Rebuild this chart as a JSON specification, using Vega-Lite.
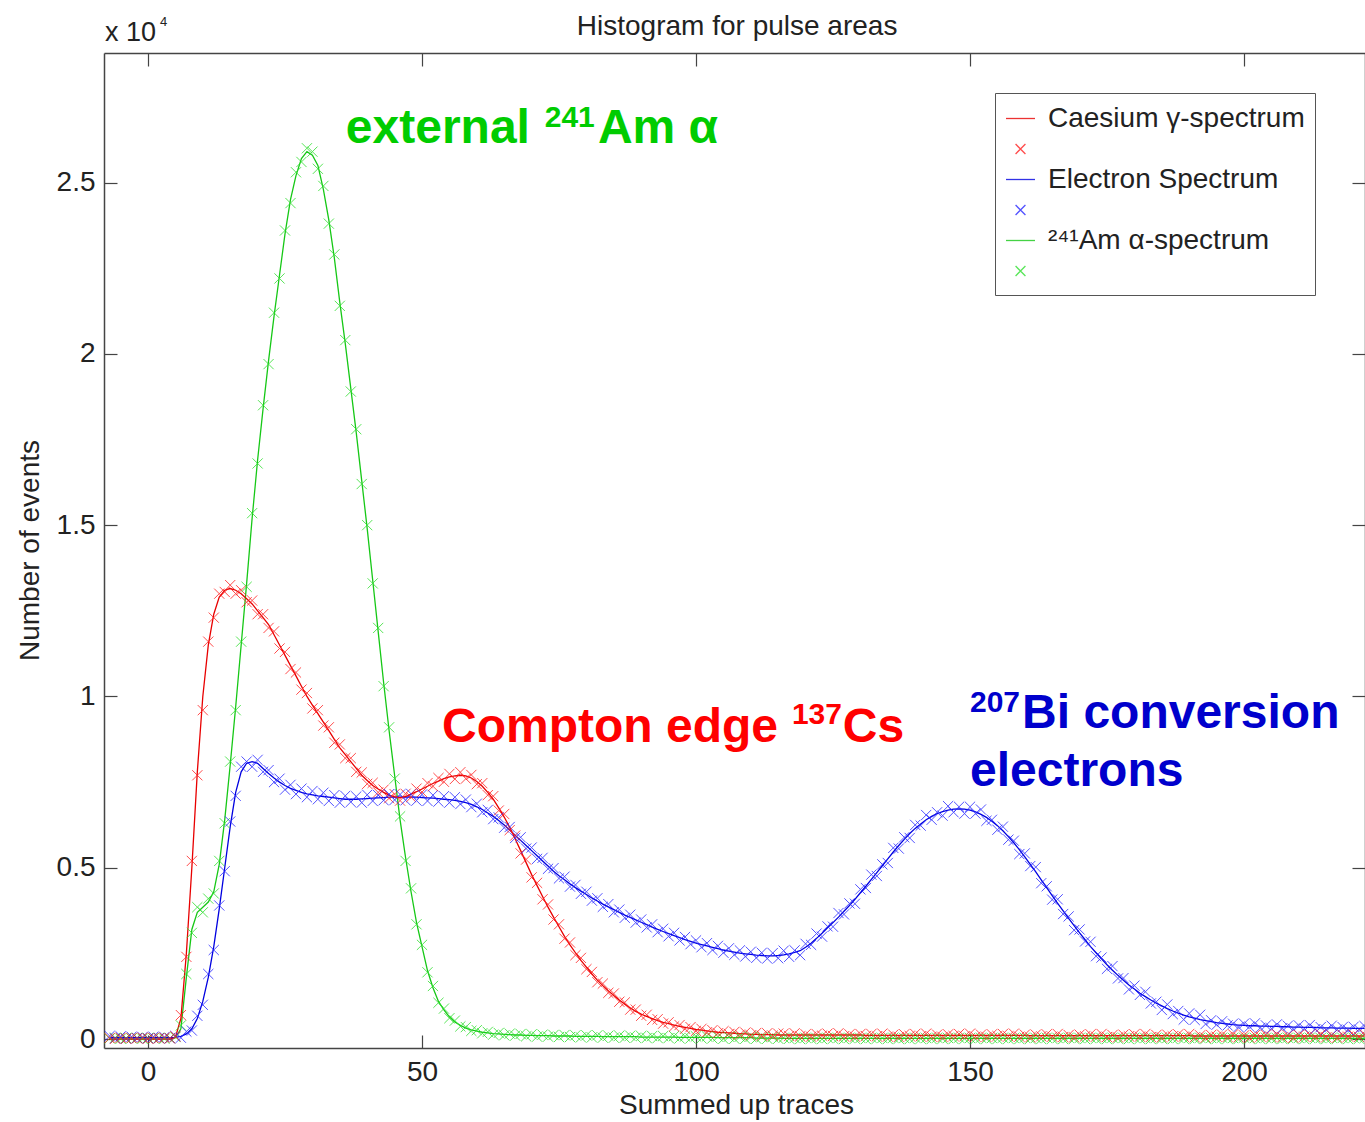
{
  "$schema": "https://vega.github.io/schema/vega-lite/v6.json",
  "width": 1261,
  "height": 995,
  "autosize": {"type": "none"},
  "padding": {"left": 104, "top": 53, "right": 0, "bottom": 74},
  "background": "white",
  "config": {"view": {"stroke": null}, "font": "Liberation Sans"},
  "datasets": {
    "spectra": [
      {"x":-7,"Cs":0,"CsM":0.003,"El":0.004,"ElM":0.009,"Am":0,"AmM":0.002},
      {"x":-6,"Cs":0,"CsM":0.001,"El":0.004,"ElM":0.002,"Am":0,"AmM":0.004},
      {"x":-5,"Cs":0,"CsM":0.004,"El":0.004,"ElM":0.008,"Am":0,"AmM":0.001},
      {"x":-4,"Cs":0,"CsM":0.001,"El":0.004,"ElM":0.001,"Am":0,"AmM":0.003},
      {"x":-3,"Cs":0,"CsM":0.003,"El":0.004,"ElM":0.007,"Am":0,"AmM":0.002},
      {"x":-2,"Cs":0,"CsM":0.002,"El":0.004,"ElM":0.003,"Am":0,"AmM":0.004},
      {"x":-1,"Cs":0,"CsM":0.004,"El":0.004,"ElM":0.006,"Am":0,"AmM":0.001},
      {"x":0,"Cs":0,"CsM":0.001,"El":0.004,"ElM":0.002,"Am":0,"AmM":0.003},
      {"x":1,"Cs":0,"CsM":0.003,"El":0.004,"ElM":0.007,"Am":0,"AmM":0.002},
      {"x":2,"Cs":0,"CsM":0.002,"El":0.004,"ElM":0.003,"Am":0,"AmM":0.004},
      {"x":3,"Cs":0,"CsM":0.004,"El":0.004,"ElM":0.006,"Am":0,"AmM":0.001},
      {"x":4,"Cs":0,"CsM":0.002,"El":0.004,"ElM":0.002,"Am":0,"AmM":0.003},
      {"x":5,"Cs":0.005,"CsM":0.008,"El":0.005,"ElM":0.009,"Am":0.004,"AmM":0.006},
      {"x":6,"Cs":0.06,"CsM":0.07,"El":0.008,"ElM":0.004,"Am":0.03,"AmM":0.04},
      {"x":7,"Cs":0.25,"CsM":0.24,"El":0.015,"ElM":0.022,"Am":0.18,"AmM":0.19},
      {"x":8,"Cs":0.5,"CsM":0.52,"El":0.03,"ElM":0.025,"Am":0.32,"AmM":0.31},
      {"x":9,"Cs":0.78,"CsM":0.77,"El":0.06,"ElM":0.068,"Am":0.37,"AmM":0.385},
      {"x":10,"Cs":1.0,"CsM":0.96,"El":0.11,"ElM":0.1,"Am":0.385,"AmM":0.37},
      {"x":11,"Cs":1.15,"CsM":1.16,"El":0.18,"ElM":0.19,"Am":0.4,"AmM":0.41},
      {"x":12,"Cs":1.24,"CsM":1.23,"El":0.27,"ElM":0.26,"Am":0.43,"AmM":0.425},
      {"x":13,"Cs":1.29,"CsM":1.3,"El":0.38,"ElM":0.39,"Am":0.51,"AmM":0.52},
      {"x":14,"Cs":1.31,"CsM":1.305,"El":0.5,"ElM":0.49,"Am":0.64,"AmM":0.63},
      {"x":15,"Cs":1.315,"CsM":1.325,"El":0.62,"ElM":0.635,"Am":0.8,"AmM":0.81},
      {"x":16,"Cs":1.31,"CsM":1.3,"El":0.72,"ElM":0.71,"Am":0.97,"AmM":0.96},
      {"x":17,"Cs":1.3,"CsM":1.31,"El":0.78,"ElM":0.795,"Am":1.15,"AmM":1.16},
      {"x":18,"Cs":1.285,"CsM":1.275,"El":0.805,"ElM":0.81,"Am":1.33,"AmM":1.32},
      {"x":19,"Cs":1.27,"CsM":1.28,"El":0.81,"ElM":0.795,"Am":1.52,"AmM":1.535},
      {"x":20,"Cs":1.25,"CsM":1.24,"El":0.805,"ElM":0.815,"Am":1.69,"AmM":1.68},
      {"x":21,"Cs":1.23,"CsM":1.24,"El":0.79,"ElM":0.78,"Am":1.84,"AmM":1.85},
      {"x":22,"Cs":1.21,"CsM":1.2,"El":0.775,"ElM":0.785,"Am":1.98,"AmM":1.97},
      {"x":23,"Cs":1.18,"CsM":1.19,"El":0.762,"ElM":0.75,"Am":2.11,"AmM":2.12},
      {"x":24,"Cs":1.15,"CsM":1.14,"El":0.75,"ElM":0.76,"Am":2.23,"AmM":2.22},
      {"x":25,"Cs":1.12,"CsM":1.13,"El":0.74,"ElM":0.728,"Am":2.35,"AmM":2.36},
      {"x":26,"Cs":1.09,"CsM":1.08,"El":0.732,"ElM":0.742,"Am":2.45,"AmM":2.44},
      {"x":27,"Cs":1.06,"CsM":1.07,"El":0.726,"ElM":0.715,"Am":2.52,"AmM":2.53},
      {"x":28,"Cs":1.03,"CsM":1.02,"El":0.72,"ElM":0.731,"Am":2.57,"AmM":2.56},
      {"x":29,"Cs":1.0,"CsM":1.01,"El":0.716,"ElM":0.706,"Am":2.59,"AmM":2.6},
      {"x":30,"Cs":0.975,"CsM":0.965,"El":0.713,"ElM":0.724,"Am":2.58,"AmM":2.59},
      {"x":31,"Cs":0.95,"CsM":0.96,"El":0.71,"ElM":0.7,"Am":2.55,"AmM":2.54},
      {"x":32,"Cs":0.925,"CsM":0.915,"El":0.708,"ElM":0.719,"Am":2.48,"AmM":2.49},
      {"x":33,"Cs":0.9,"CsM":0.91,"El":0.706,"ElM":0.695,"Am":2.39,"AmM":2.38},
      {"x":34,"Cs":0.875,"CsM":0.865,"El":0.704,"ElM":0.712,"Am":2.28,"AmM":2.29},
      {"x":35,"Cs":0.85,"CsM":0.86,"El":0.702,"ElM":0.69,"Am":2.15,"AmM":2.14},
      {"x":36,"Cs":0.83,"CsM":0.82,"El":0.7,"ElM":0.71,"Am":2.03,"AmM":2.04},
      {"x":37,"Cs":0.81,"CsM":0.82,"El":0.7,"ElM":0.692,"Am":1.9,"AmM":1.89},
      {"x":38,"Cs":0.79,"CsM":0.78,"El":0.7,"ElM":0.708,"Am":1.77,"AmM":1.78},
      {"x":39,"Cs":0.77,"CsM":0.778,"El":0.701,"ElM":0.69,"Am":1.63,"AmM":1.62},
      {"x":40,"Cs":0.755,"CsM":0.745,"El":0.702,"ElM":0.713,"Am":1.49,"AmM":1.5},
      {"x":41,"Cs":0.74,"CsM":0.748,"El":0.703,"ElM":0.695,"Am":1.34,"AmM":1.33},
      {"x":42,"Cs":0.73,"CsM":0.72,"El":0.704,"ElM":0.712,"Am":1.19,"AmM":1.2},
      {"x":43,"Cs":0.72,"CsM":0.728,"El":0.705,"ElM":0.697,"Am":1.04,"AmM":1.03},
      {"x":44,"Cs":0.712,"CsM":0.703,"El":0.706,"ElM":0.715,"Am":0.9,"AmM":0.91},
      {"x":45,"Cs":0.707,"CsM":0.715,"El":0.706,"ElM":0.698,"Am":0.77,"AmM":0.76},
      {"x":46,"Cs":0.705,"CsM":0.696,"El":0.706,"ElM":0.714,"Am":0.64,"AmM":0.65},
      {"x":47,"Cs":0.708,"CsM":0.716,"El":0.706,"ElM":0.697,"Am":0.53,"AmM":0.52},
      {"x":48,"Cs":0.715,"CsM":0.706,"El":0.706,"ElM":0.716,"Am":0.43,"AmM":0.44},
      {"x":49,"Cs":0.722,"CsM":0.731,"El":0.706,"ElM":0.696,"Am":0.34,"AmM":0.335},
      {"x":50,"Cs":0.73,"CsM":0.721,"El":0.705,"ElM":0.714,"Am":0.27,"AmM":0.275},
      {"x":51,"Cs":0.738,"CsM":0.747,"El":0.704,"ElM":0.695,"Am":0.2,"AmM":0.195},
      {"x":52,"Cs":0.746,"CsM":0.738,"El":0.703,"ElM":0.712,"Am":0.15,"AmM":0.155},
      {"x":53,"Cs":0.753,"CsM":0.762,"El":0.702,"ElM":0.693,"Am":0.11,"AmM":0.106},
      {"x":54,"Cs":0.76,"CsM":0.751,"El":0.7,"ElM":0.709,"Am":0.085,"AmM":0.089},
      {"x":55,"Cs":0.765,"CsM":0.774,"El":0.699,"ElM":0.69,"Am":0.065,"AmM":0.061},
      {"x":56,"Cs":0.768,"CsM":0.759,"El":0.697,"ElM":0.706,"Am":0.05,"AmM":0.054},
      {"x":57,"Cs":0.77,"CsM":0.779,"El":0.694,"ElM":0.686,"Am":0.04,"AmM":0.037},
      {"x":58,"Cs":0.768,"CsM":0.76,"El":0.69,"ElM":0.699,"Am":0.032,"AmM":0.035},
      {"x":59,"Cs":0.762,"CsM":0.771,"El":0.685,"ElM":0.677,"Am":0.027,"AmM":0.024},
      {"x":60,"Cs":0.752,"CsM":0.744,"El":0.678,"ElM":0.687,"Am":0.023,"AmM":0.026},
      {"x":61,"Cs":0.738,"CsM":0.747,"El":0.67,"ElM":0.662,"Am":0.02,"AmM":0.017},
      {"x":62,"Cs":0.72,"CsM":0.712,"El":0.66,"ElM":0.669,"Am":0.018,"AmM":0.021},
      {"x":63,"Cs":0.7,"CsM":0.709,"El":0.65,"ElM":0.642,"Am":0.016,"AmM":0.013},
      {"x":64,"Cs":0.675,"CsM":0.667,"El":0.638,"ElM":0.647,"Am":0.015,"AmM":0.018},
      {"x":65,"Cs":0.648,"CsM":0.657,"El":0.625,"ElM":0.617,"Am":0.014,"AmM":0.011},
      {"x":66,"Cs":0.618,"CsM":0.61,"El":0.61,"ElM":0.619,"Am":0.013,"AmM":0.016},
      {"x":67,"Cs":0.585,"CsM":0.594,"El":0.595,"ElM":0.587,"Am":0.012,"AmM":0.01},
      {"x":68,"Cs":0.55,"CsM":0.542,"El":0.58,"ElM":0.589,"Am":0.012,"AmM":0.015},
      {"x":69,"Cs":0.515,"CsM":0.524,"El":0.565,"ElM":0.556,"Am":0.011,"AmM":0.008},
      {"x":70,"Cs":0.48,"CsM":0.472,"El":0.55,"ElM":0.559,"Am":0.011,"AmM":0.014},
      {"x":71,"Cs":0.448,"CsM":0.456,"El":0.535,"ElM":0.526,"Am":0.01,"AmM":0.007},
      {"x":72,"Cs":0.416,"CsM":0.408,"El":0.52,"ElM":0.529,"Am":0.01,"AmM":0.013},
      {"x":73,"Cs":0.385,"CsM":0.393,"El":0.505,"ElM":0.497,"Am":0.01,"AmM":0.007},
      {"x":74,"Cs":0.356,"CsM":0.349,"El":0.49,"ElM":0.499,"Am":0.009,"AmM":0.012},
      {"x":75,"Cs":0.328,"CsM":0.335,"El":0.477,"ElM":0.469,"Am":0.009,"AmM":0.006},
      {"x":76,"Cs":0.3,"CsM":0.293,"El":0.465,"ElM":0.474,"Am":0.009,"AmM":0.012},
      {"x":77,"Cs":0.275,"CsM":0.282,"El":0.453,"ElM":0.445,"Am":0.009,"AmM":0.006},
      {"x":78,"Cs":0.252,"CsM":0.245,"El":0.442,"ElM":0.45,"Am":0.008,"AmM":0.011},
      {"x":79,"Cs":0.23,"CsM":0.237,"El":0.432,"ElM":0.424,"Am":0.008,"AmM":0.005},
      {"x":80,"Cs":0.21,"CsM":0.204,"El":0.422,"ElM":0.43,"Am":0.008,"AmM":0.011},
      {"x":81,"Cs":0.19,"CsM":0.196,"El":0.412,"ElM":0.404,"Am":0.008,"AmM":0.005},
      {"x":82,"Cs":0.172,"CsM":0.166,"El":0.403,"ElM":0.411,"Am":0.008,"AmM":0.011},
      {"x":83,"Cs":0.156,"CsM":0.162,"El":0.394,"ElM":0.386,"Am":0.007,"AmM":0.004},
      {"x":84,"Cs":0.141,"CsM":0.135,"El":0.386,"ElM":0.394,"Am":0.007,"AmM":0.01},
      {"x":85,"Cs":0.127,"CsM":0.133,"El":0.378,"ElM":0.37,"Am":0.007,"AmM":0.004},
      {"x":86,"Cs":0.114,"CsM":0.109,"El":0.37,"ElM":0.378,"Am":0.007,"AmM":0.01},
      {"x":87,"Cs":0.102,"CsM":0.107,"El":0.362,"ElM":0.354,"Am":0.007,"AmM":0.004},
      {"x":88,"Cs":0.091,"CsM":0.086,"El":0.355,"ElM":0.363,"Am":0.007,"AmM":0.01},
      {"x":89,"Cs":0.081,"CsM":0.086,"El":0.348,"ElM":0.34,"Am":0.007,"AmM":0.004},
      {"x":90,"Cs":0.073,"CsM":0.068,"El":0.341,"ElM":0.349,"Am":0.006,"AmM":0.009},
      {"x":91,"Cs":0.066,"CsM":0.071,"El":0.334,"ElM":0.326,"Am":0.006,"AmM":0.003},
      {"x":92,"Cs":0.06,"CsM":0.056,"El":0.327,"ElM":0.335,"Am":0.006,"AmM":0.009},
      {"x":93,"Cs":0.054,"CsM":0.058,"El":0.32,"ElM":0.312,"Am":0.006,"AmM":0.003},
      {"x":94,"Cs":0.049,"CsM":0.045,"El":0.314,"ElM":0.322,"Am":0.006,"AmM":0.009},
      {"x":95,"Cs":0.045,"CsM":0.049,"El":0.308,"ElM":0.3,"Am":0.006,"AmM":0.003},
      {"x":96,"Cs":0.041,"CsM":0.037,"El":0.302,"ElM":0.31,"Am":0.006,"AmM":0.009},
      {"x":97,"Cs":0.037,"CsM":0.041,"El":0.296,"ElM":0.288,"Am":0.005,"AmM":0.002},
      {"x":98,"Cs":0.034,"CsM":0.03,"El":0.29,"ElM":0.298,"Am":0.005,"AmM":0.008},
      {"x":99,"Cs":0.031,"CsM":0.035,"El":0.285,"ElM":0.277,"Am":0.005,"AmM":0.002},
      {"x":100,"Cs":0.028,"CsM":0.024,"El":0.28,"ElM":0.288,"Am":0.005,"AmM":0.008},
      {"x":101,"Cs":0.026,"CsM":0.03,"El":0.276,"ElM":0.268,"Am":0.005,"AmM":0.002},
      {"x":102,"Cs":0.024,"CsM":0.02,"El":0.272,"ElM":0.28,"Am":0.005,"AmM":0.008},
      {"x":103,"Cs":0.022,"CsM":0.026,"El":0.268,"ElM":0.26,"Am":0.005,"AmM":0.002},
      {"x":104,"Cs":0.02,"CsM":0.017,"El":0.264,"ElM":0.272,"Am":0.004,"AmM":0.007},
      {"x":105,"Cs":0.019,"CsM":0.023,"El":0.26,"ElM":0.252,"Am":0.004,"AmM":0.001},
      {"x":106,"Cs":0.018,"CsM":0.015,"El":0.257,"ElM":0.265,"Am":0.004,"AmM":0.007},
      {"x":107,"Cs":0.017,"CsM":0.021,"El":0.254,"ElM":0.246,"Am":0.004,"AmM":0.001},
      {"x":108,"Cs":0.016,"CsM":0.013,"El":0.251,"ElM":0.259,"Am":0.004,"AmM":0.007},
      {"x":109,"Cs":0.015,"CsM":0.019,"El":0.249,"ElM":0.241,"Am":0.004,"AmM":0.001},
      {"x":110,"Cs":0.014,"CsM":0.011,"El":0.247,"ElM":0.255,"Am":0.004,"AmM":0.007},
      {"x":111,"Cs":0.014,"CsM":0.018,"El":0.245,"ElM":0.237,"Am":0.003,"AmM":0.001},
      {"x":112,"Cs":0.013,"CsM":0.01,"El":0.244,"ElM":0.252,"Am":0.003,"AmM":0.006},
      {"x":113,"Cs":0.013,"CsM":0.017,"El":0.243,"ElM":0.235,"Am":0.003,"AmM":0.001},
      {"x":114,"Cs":0.013,"CsM":0.01,"El":0.243,"ElM":0.251,"Am":0.003,"AmM":0.006},
      {"x":115,"Cs":0.012,"CsM":0.016,"El":0.244,"ElM":0.236,"Am":0.003,"AmM":0.001},
      {"x":116,"Cs":0.012,"CsM":0.016,"El":0.246,"ElM":0.258,"Am":0.002,"AmM":0.004},
      {"x":117,"Cs":0.012,"CsM":0.009,"El":0.249,"ElM":0.24,"Am":0.002,"AmM":0.001},
      {"x":118,"Cs":0.012,"CsM":0.017,"El":0.253,"ElM":0.259,"Am":0.002,"AmM":0.003},
      {"x":119,"Cs":0.012,"CsM":0.008,"El":0.258,"ElM":0.245,"Am":0.002,"AmM":0},
      {"x":120,"Cs":0.012,"CsM":0.014,"El":0.268,"ElM":0.278,"Am":0.002,"AmM":0.004},
      {"x":121,"Cs":0.012,"CsM":0.007,"El":0.28,"ElM":0.275,"Am":0.002,"AmM":0.001},
      {"x":122,"Cs":0.012,"CsM":0.015,"El":0.294,"ElM":0.308,"Am":0.002,"AmM":0.003},
      {"x":123,"Cs":0.012,"CsM":0.01,"El":0.309,"ElM":0.299,"Am":0.002,"AmM":0},
      {"x":124,"Cs":0.012,"CsM":0.016,"El":0.325,"ElM":0.329,"Am":0.002,"AmM":0.004},
      {"x":125,"Cs":0.012,"CsM":0.009,"El":0.34,"ElM":0.328,"Am":0.002,"AmM":0.001},
      {"x":126,"Cs":0.012,"CsM":0.017,"El":0.356,"ElM":0.368,"Am":0.002,"AmM":0.003},
      {"x":127,"Cs":0.012,"CsM":0.008,"El":0.373,"ElM":0.364,"Am":0.002,"AmM":0},
      {"x":128,"Cs":0.012,"CsM":0.014,"El":0.39,"ElM":0.396,"Am":0.002,"AmM":0.004},
      {"x":129,"Cs":0.012,"CsM":0.007,"El":0.408,"ElM":0.395,"Am":0.002,"AmM":0.001},
      {"x":130,"Cs":0.012,"CsM":0.015,"El":0.427,"ElM":0.437,"Am":0.002,"AmM":0.003},
      {"x":131,"Cs":0.011,"CsM":0.009,"El":0.446,"ElM":0.441,"Am":0.002,"AmM":0},
      {"x":132,"Cs":0.011,"CsM":0.015,"El":0.466,"ElM":0.48,"Am":0.002,"AmM":0.004},
      {"x":133,"Cs":0.011,"CsM":0.008,"El":0.486,"ElM":0.476,"Am":0.002,"AmM":0.001},
      {"x":134,"Cs":0.011,"CsM":0.016,"El":0.506,"ElM":0.51,"Am":0.002,"AmM":0.003},
      {"x":135,"Cs":0.011,"CsM":0.007,"El":0.526,"ElM":0.514,"Am":0.002,"AmM":0},
      {"x":136,"Cs":0.011,"CsM":0.013,"El":0.546,"ElM":0.558,"Am":0.002,"AmM":0.004},
      {"x":137,"Cs":0.011,"CsM":0.006,"El":0.565,"ElM":0.556,"Am":0.002,"AmM":0.001},
      {"x":138,"Cs":0.011,"CsM":0.014,"El":0.583,"ElM":0.589,"Am":0.002,"AmM":0.003},
      {"x":139,"Cs":0.011,"CsM":0.009,"El":0.6,"ElM":0.587,"Am":0.002,"AmM":0},
      {"x":140,"Cs":0.011,"CsM":0.015,"El":0.615,"ElM":0.625,"Am":0.002,"AmM":0.004},
      {"x":141,"Cs":0.011,"CsM":0.008,"El":0.628,"ElM":0.623,"Am":0.002,"AmM":0.001},
      {"x":142,"Cs":0.011,"CsM":0.016,"El":0.64,"ElM":0.654,"Am":0.002,"AmM":0.003},
      {"x":143,"Cs":0.011,"CsM":0.007,"El":0.65,"ElM":0.64,"Am":0.002,"AmM":0},
      {"x":144,"Cs":0.011,"CsM":0.013,"El":0.658,"ElM":0.662,"Am":0.002,"AmM":0.004},
      {"x":145,"Cs":0.011,"CsM":0.006,"El":0.664,"ElM":0.652,"Am":0.002,"AmM":0.001},
      {"x":146,"Cs":0.011,"CsM":0.014,"El":0.668,"ElM":0.68,"Am":0.002,"AmM":0.003},
      {"x":147,"Cs":0.011,"CsM":0.009,"El":0.671,"ElM":0.662,"Am":0.002,"AmM":0},
      {"x":148,"Cs":0.011,"CsM":0.015,"El":0.672,"ElM":0.678,"Am":0.002,"AmM":0.004},
      {"x":149,"Cs":0.011,"CsM":0.008,"El":0.671,"ElM":0.658,"Am":0.002,"AmM":0.001},
      {"x":150,"Cs":0.011,"CsM":0.016,"El":0.668,"ElM":0.678,"Am":0.002,"AmM":0.003},
      {"x":151,"Cs":0.011,"CsM":0.007,"El":0.663,"ElM":0.658,"Am":0.002,"AmM":0},
      {"x":152,"Cs":0.011,"CsM":0.013,"El":0.656,"ElM":0.67,"Am":0.002,"AmM":0.004},
      {"x":153,"Cs":0.011,"CsM":0.006,"El":0.647,"ElM":0.637,"Am":0.002,"AmM":0.001},
      {"x":154,"Cs":0.011,"CsM":0.014,"El":0.636,"ElM":0.64,"Am":0.002,"AmM":0.003},
      {"x":155,"Cs":0.011,"CsM":0.009,"El":0.623,"ElM":0.611,"Am":0.002,"AmM":0},
      {"x":156,"Cs":0.011,"CsM":0.015,"El":0.608,"ElM":0.62,"Am":0.002,"AmM":0.004},
      {"x":157,"Cs":0.011,"CsM":0.008,"El":0.591,"ElM":0.582,"Am":0.002,"AmM":0.001},
      {"x":158,"Cs":0.011,"CsM":0.016,"El":0.573,"ElM":0.579,"Am":0.002,"AmM":0.003},
      {"x":159,"Cs":0.011,"CsM":0.007,"El":0.553,"ElM":0.54,"Am":0.002,"AmM":0},
      {"x":160,"Cs":0.011,"CsM":0.013,"El":0.532,"ElM":0.542,"Am":0.002,"AmM":0.004},
      {"x":161,"Cs":0.01,"CsM":0.005,"El":0.51,"ElM":0.505,"Am":0.002,"AmM":0.001},
      {"x":162,"Cs":0.01,"CsM":0.013,"El":0.488,"ElM":0.502,"Am":0.002,"AmM":0.003},
      {"x":163,"Cs":0.01,"CsM":0.008,"El":0.465,"ElM":0.455,"Am":0.002,"AmM":0},
      {"x":164,"Cs":0.01,"CsM":0.014,"El":0.442,"ElM":0.446,"Am":0.002,"AmM":0.004},
      {"x":165,"Cs":0.01,"CsM":0.007,"El":0.419,"ElM":0.407,"Am":0.002,"AmM":0.001},
      {"x":166,"Cs":0.01,"CsM":0.015,"El":0.396,"ElM":0.408,"Am":0.002,"AmM":0.003},
      {"x":167,"Cs":0.01,"CsM":0.006,"El":0.374,"ElM":0.365,"Am":0.002,"AmM":0},
      {"x":168,"Cs":0.01,"CsM":0.012,"El":0.352,"ElM":0.358,"Am":0.002,"AmM":0.004},
      {"x":169,"Cs":0.01,"CsM":0.005,"El":0.331,"ElM":0.318,"Am":0.002,"AmM":0.001},
      {"x":170,"Cs":0.01,"CsM":0.013,"El":0.31,"ElM":0.32,"Am":0.002,"AmM":0.003},
      {"x":171,"Cs":0.01,"CsM":0.008,"El":0.29,"ElM":0.285,"Am":0.002,"AmM":0},
      {"x":172,"Cs":0.01,"CsM":0.014,"El":0.27,"ElM":0.284,"Am":0.002,"AmM":0.004},
      {"x":173,"Cs":0.01,"CsM":0.007,"El":0.252,"ElM":0.242,"Am":0.002,"AmM":0.001},
      {"x":174,"Cs":0.01,"CsM":0.015,"El":0.234,"ElM":0.238,"Am":0.002,"AmM":0.003},
      {"x":175,"Cs":0.01,"CsM":0.006,"El":0.217,"ElM":0.205,"Am":0.002,"AmM":0},
      {"x":176,"Cs":0.01,"CsM":0.012,"El":0.201,"ElM":0.213,"Am":0.002,"AmM":0.004},
      {"x":177,"Cs":0.01,"CsM":0.005,"El":0.186,"ElM":0.177,"Am":0.002,"AmM":0.001},
      {"x":178,"Cs":0.01,"CsM":0.013,"El":0.172,"ElM":0.178,"Am":0.002,"AmM":0.003},
      {"x":179,"Cs":0.01,"CsM":0.008,"El":0.158,"ElM":0.145,"Am":0.002,"AmM":0},
      {"x":180,"Cs":0.01,"CsM":0.014,"El":0.146,"ElM":0.156,"Am":0.002,"AmM":0.004},
      {"x":181,"Cs":0.01,"CsM":0.007,"El":0.134,"ElM":0.129,"Am":0.002,"AmM":0.001},
      {"x":182,"Cs":0.01,"CsM":0.015,"El":0.124,"ElM":0.138,"Am":0.002,"AmM":0.003},
      {"x":183,"Cs":0.01,"CsM":0.006,"El":0.114,"ElM":0.104,"Am":0.002,"AmM":0},
      {"x":184,"Cs":0.01,"CsM":0.012,"El":0.105,"ElM":0.109,"Am":0.002,"AmM":0.004},
      {"x":185,"Cs":0.01,"CsM":0.005,"El":0.097,"ElM":0.085,"Am":0.002,"AmM":0.001},
      {"x":186,"Cs":0.01,"CsM":0.013,"El":0.089,"ElM":0.101,"Am":0.002,"AmM":0.003},
      {"x":187,"Cs":0.01,"CsM":0.008,"El":0.082,"ElM":0.073,"Am":0.002,"AmM":0},
      {"x":188,"Cs":0.01,"CsM":0.014,"El":0.076,"ElM":0.082,"Am":0.002,"AmM":0.004},
      {"x":189,"Cs":0.01,"CsM":0.007,"El":0.07,"ElM":0.057,"Am":0.002,"AmM":0.001},
      {"x":190,"Cs":0.01,"CsM":0.015,"El":0.065,"ElM":0.075,"Am":0.002,"AmM":0.003},
      {"x":191,"Cs":0.009,"CsM":0.005,"El":0.061,"ElM":0.056,"Am":0.002,"AmM":0},
      {"x":192,"Cs":0.009,"CsM":0.011,"El":0.057,"ElM":0.071,"Am":0.002,"AmM":0.004},
      {"x":193,"Cs":0.009,"CsM":0.004,"El":0.054,"ElM":0.044,"Am":0.002,"AmM":0.001},
      {"x":194,"Cs":0.009,"CsM":0.012,"El":0.051,"ElM":0.055,"Am":0.002,"AmM":0.003},
      {"x":195,"Cs":0.009,"CsM":0.007,"El":0.048,"ElM":0.042,"Am":0.002,"AmM":0},
      {"x":196,"Cs":0.009,"CsM":0.013,"El":0.046,"ElM":0.052,"Am":0.002,"AmM":0.004},
      {"x":197,"Cs":0.009,"CsM":0.006,"El":0.044,"ElM":0.04,"Am":0.002,"AmM":0.001},
      {"x":198,"Cs":0.009,"CsM":0.014,"El":0.042,"ElM":0.045,"Am":0.002,"AmM":0.003},
      {"x":199,"Cs":0.009,"CsM":0.005,"El":0.041,"ElM":0.035,"Am":0.002,"AmM":0},
      {"x":200,"Cs":0.009,"CsM":0.011,"El":0.04,"ElM":0.045,"Am":0.002,"AmM":0.004},
      {"x":201,"Cs":0.009,"CsM":0.004,"El":0.039,"ElM":0.036,"Am":0.002,"AmM":0.001},
      {"x":202,"Cs":0.009,"CsM":0.012,"El":0.039,"ElM":0.046,"Am":0.002,"AmM":0.003},
      {"x":203,"Cs":0.009,"CsM":0.007,"El":0.038,"ElM":0.033,"Am":0.002,"AmM":0},
      {"x":204,"Cs":0.009,"CsM":0.013,"El":0.038,"ElM":0.04,"Am":0.002,"AmM":0.004},
      {"x":205,"Cs":0.009,"CsM":0.006,"El":0.037,"ElM":0.031,"Am":0.002,"AmM":0.001},
      {"x":206,"Cs":0.009,"CsM":0.014,"El":0.037,"ElM":0.043,"Am":0.002,"AmM":0.003},
      {"x":207,"Cs":0.009,"CsM":0.005,"El":0.036,"ElM":0.032,"Am":0.002,"AmM":0},
      {"x":208,"Cs":0.009,"CsM":0.011,"El":0.036,"ElM":0.039,"Am":0.002,"AmM":0.004},
      {"x":209,"Cs":0.009,"CsM":0.004,"El":0.035,"ElM":0.029,"Am":0.002,"AmM":0.001},
      {"x":210,"Cs":0.009,"CsM":0.012,"El":0.035,"ElM":0.04,"Am":0.002,"AmM":0.003},
      {"x":211,"Cs":0.009,"CsM":0.007,"El":0.034,"ElM":0.031,"Am":0.002,"AmM":0},
      {"x":212,"Cs":0.009,"CsM":0.013,"El":0.034,"ElM":0.041,"Am":0.002,"AmM":0.004},
      {"x":213,"Cs":0.009,"CsM":0.006,"El":0.034,"ElM":0.029,"Am":0.002,"AmM":0.001},
      {"x":214,"Cs":0.009,"CsM":0.014,"El":0.033,"ElM":0.035,"Am":0.002,"AmM":0.003},
      {"x":215,"Cs":0.009,"CsM":0.005,"El":0.033,"ElM":0.027,"Am":0.002,"AmM":0},
      {"x":216,"Cs":0.009,"CsM":0.011,"El":0.033,"ElM":0.039,"Am":0.002,"AmM":0.004},
      {"x":217,"Cs":0.009,"CsM":0.004,"El":0.032,"ElM":0.028,"Am":0.002,"AmM":0.001},
      {"x":218,"Cs":0.009,"CsM":0.012,"El":0.032,"ElM":0.035,"Am":0.002,"AmM":0.003},
      {"x":219,"Cs":0.009,"CsM":0.007,"El":0.032,"ElM":0.026,"Am":0.002,"AmM":0},
      {"x":220,"Cs":0.009,"CsM":0.013,"El":0.031,"ElM":0.036,"Am":0.002,"AmM":0.004},
      {"x":221,"Cs":0.009,"CsM":0.006,"El":0.031,"ElM":0.028,"Am":0.002,"AmM":0.001},
      {"x":222,"Cs":0.009,"CsM":0.014,"El":0.031,"ElM":0.038,"Am":0.002,"AmM":0.003}
    ],
    "notes": [
      {"x": 36.1, "y": 2.615, "text": "external", "series": "Am"},
      {"x": 82.1, "y": 2.615, "text": "Am α", "series": "Am"},
      {"x": 53.65, "y": 0.867, "text": "Compton edge", "series": "Cs"},
      {"x": 126.8, "y": 0.867, "text": "Cs", "series": "Cs"},
      {"x": 159.5, "y": 0.908, "text": "Bi conversion", "series": "El"},
      {"x": 150.0, "y": 0.738, "text": "electrons", "series": "El"}
    ],
    "isotopes": [
      {"x": 72.4, "y": 2.662, "text": "241", "series": "Am"},
      {"x": 117.5, "y": 0.921, "text": "137", "series": "Cs"},
      {"x": 150.0, "y": 0.956, "text": "207", "series": "El"}
    ]
  },
  "layer": [
    {
      "data": {"name": "spectra"},
      "transform": [{"fold": ["Am", "El", "Cs"], "as": ["series", "events"]}],
      "mark": {"type": "line", "strokeWidth": 1.3, "clip": true},
      "encoding": {
        "x": {
          "field": "x", "type": "quantitative",
          "scale": {"domain": [-8.03, 222.08], "nice": false, "zero": false},
          "axis": {
            "orient": "bottom", "values": [0, 50, 100, 150, 200], "grid": false,
            "title": "Summed up traces", "titleFont": "Liberation Sans", "titleFontSize": 28, "titleFontWeight": "normal", "titleColor": "#222",
            "titleBaseline": "alphabetic", "titleX": 632, "titleY": 65,
            "labelFont": "Liberation Sans", "labelFontSize": 28, "labelColor": "#222", "labelPadding": 23, "labelFlush": false, "labelOverlap": false,
            "tickSize": -13, "tickColor": "#444", "tickWidth": 1.2, "domainColor": "#444", "domainWidth": 1.5
          }
        },
        "y": {
          "field": "events", "type": "quantitative",
          "scale": {"domain": [-0.026, 2.878], "nice": false, "zero": false},
          "axis": {
            "orient": "left", "values": [0, 0.5, 1, 1.5, 2, 2.5], "format": "~g", "grid": false,
            "title": "Number of events", "titleFont": "Liberation Sans", "titleFontSize": 28, "titleFontWeight": "normal", "titleColor": "#222",
            "titleBaseline": "alphabetic", "titleX": -66, "titleY": 497,
            "labelFont": "Liberation Sans", "labelFontSize": 28, "labelColor": "#222", "labelPadding": 22, "labelFlush": false, "labelOverlap": false,
            "tickSize": -13, "tickColor": "#444", "tickWidth": 1.2, "domainColor": "#444", "domainWidth": 1.5
          }
        },
        "color": {
          "field": "series", "type": "nominal",
          "scale": {
            "domain": ["Cs", "CsM", "El", "ElM", "Am", "AmM"],
            "range": ["#e80000", "#ff2020", "#0000e0", "#2828ff", "#16c816", "#30e030"]
          },
          "legend": {
            "orient": "none", "legendX": 891, "legendY": 40, "title": null,
            "strokeColor": "#555", "fillColor": "white", "padding": 10,
            "labelFont": "Liberation Sans", "labelFontSize": 28, "labelColor": "#222", "labelOffset": 12, "labelLimit": 400,
            "symbolSize": 841, "rowPadding": 0.5, "symbolStrokeWidth": 1.3,
            "labelExpr": "datum.value == 'Cs' ? 'Caesium γ-spectrum' : datum.value == 'El' ? 'Electron Spectrum' : datum.value == 'Am' ? '²⁴¹Am α-spectrum' : ''"
          }
        }
      }
    },
    {
      "data": {"name": "spectra"},
      "transform": [{"fold": ["AmM", "ElM", "CsM"], "as": ["series", "events"]}],
      "mark": {"type": "point", "filled": false, "size": 900, "strokeWidth": 1, "opacity": 0.8, "clip": true},
      "encoding": {
        "x": {
          "field": "x", "type": "quantitative",
          "axis": {"orient": "top", "values": [0, 50, 100, 150, 200], "labels": false, "title": null, "grid": false,
                   "tickSize": -13, "tickColor": "#444", "tickWidth": 1.2, "domainColor": "#444", "domainWidth": 1.5}
        },
        "y": {
          "field": "events", "type": "quantitative",
          "axis": {"orient": "right", "values": [0, 0.5, 1, 1.5, 2, 2.5], "labels": false, "title": null, "grid": false,
                   "tickSize": -13, "tickColor": "#444", "tickWidth": 1.2, "domainColor": "#444", "domainWidth": 1.5}
        },
        "color": {
          "field": "series", "type": "nominal",
          "legend": {
            "orient": "none", "legendX": 891, "legendY": 40, "title": null,
            "strokeColor": "#555", "fillColor": "white", "padding": 10,
            "labelFont": "Liberation Sans", "labelFontSize": 28, "labelColor": "#222", "labelOffset": 12, "labelLimit": 400,
            "symbolSize": 841, "rowPadding": 0.5, "symbolStrokeWidth": 1.3,
            "labelExpr": "datum.value == 'Cs' ? 'Caesium γ-spectrum' : datum.value == 'El' ? 'Electron Spectrum' : datum.value == 'Am' ? '²⁴¹Am α-spectrum' : ''"
          }
        },
        "shape": {
          "field": "series", "type": "nominal",
          "scale": {
            "domain": ["Cs", "CsM", "El", "ElM", "Am", "AmM"],
            "range": ["stroke", "M-0.34,-0.34L0.34,0.34M-0.34,0.34L0.34,-0.34", "stroke", "M-0.34,-0.34L0.34,0.34M-0.34,0.34L0.34,-0.34", "stroke", "M-0.34,-0.34L0.34,0.34M-0.34,0.34L0.34,-0.34"]
          },
          "legend": {
            "orient": "none", "legendX": 891, "legendY": 40, "title": null,
            "strokeColor": "#555", "fillColor": "white", "padding": 10,
            "labelFont": "Liberation Sans", "labelFontSize": 28, "labelColor": "#222", "labelOffset": 12, "labelLimit": 400,
            "symbolSize": 841, "rowPadding": 0.5, "symbolStrokeWidth": 1.3,
            "labelExpr": "datum.value == 'Cs' ? 'Caesium γ-spectrum' : datum.value == 'El' ? 'Electron Spectrum' : datum.value == 'Am' ? '²⁴¹Am α-spectrum' : ''"
          }
        }
      }
    },
    {
      "data": {"name": "notes"},
      "mark": {"type": "text", "align": "left", "baseline": "alphabetic", "font": "Liberation Sans", "fontWeight": "bold", "fontSize": 48},
      "encoding": {
        "x": {"field": "x", "type": "quantitative", "axis": null},
        "y": {"field": "y", "type": "quantitative", "axis": null},
        "text": {"field": "text"},
        "color": {"condition": [{"test": "datum.series === 'Am'", "value": "#00cc00"}, {"test": "datum.series === 'Cs'", "value": "#ff0000"}], "value": "#0000cc"}
      }
    },
    {
      "data": {"name": "isotopes"},
      "mark": {"type": "text", "align": "left", "baseline": "alphabetic", "font": "Liberation Sans", "fontWeight": "bold", "fontSize": 30},
      "encoding": {
        "x": {"field": "x", "type": "quantitative", "axis": null},
        "y": {"field": "y", "type": "quantitative", "axis": null},
        "text": {"field": "text"},
        "color": {"condition": [{"test": "datum.series === 'Am'", "value": "#00cc00"}, {"test": "datum.series === 'Cs'", "value": "#ff0000"}], "value": "#0000cc"}
      }
    },
    {
      "data": {"values": [{"x": 107.5, "y": 2.931, "text": "Histogram for pulse areas"}]},
      "mark": {"type": "text", "align": "center", "baseline": "alphabetic", "font": "Liberation Sans", "fontSize": 28, "color": "#222"},
      "encoding": {
        "x": {"field": "x", "type": "quantitative", "axis": null},
        "y": {"field": "y", "type": "quantitative", "axis": null},
        "text": {"field": "text"}
      }
    },
    {
      "data": {"values": [{"x": -7.85, "y": 2.913, "text": "x 10"}]},
      "mark": {"type": "text", "align": "left", "baseline": "alphabetic", "font": "Liberation Sans", "fontSize": 27, "color": "#222"},
      "encoding": {
        "x": {"field": "x", "type": "quantitative", "axis": null},
        "y": {"field": "y", "type": "quantitative", "axis": null},
        "text": {"field": "text"}
      }
    },
    {
      "data": {"values": [{"x": 2.2, "y": 2.957, "text": "4"}]},
      "mark": {"type": "text", "align": "left", "baseline": "alphabetic", "font": "Liberation Sans", "fontSize": 13, "color": "#222"},
      "encoding": {
        "x": {"field": "x", "type": "quantitative", "axis": null},
        "y": {"field": "y", "type": "quantitative", "axis": null},
        "text": {"field": "text"}
      }
    }
  ],
  "resolve": {"axis": {"x": "independent", "y": "independent"}}
}
